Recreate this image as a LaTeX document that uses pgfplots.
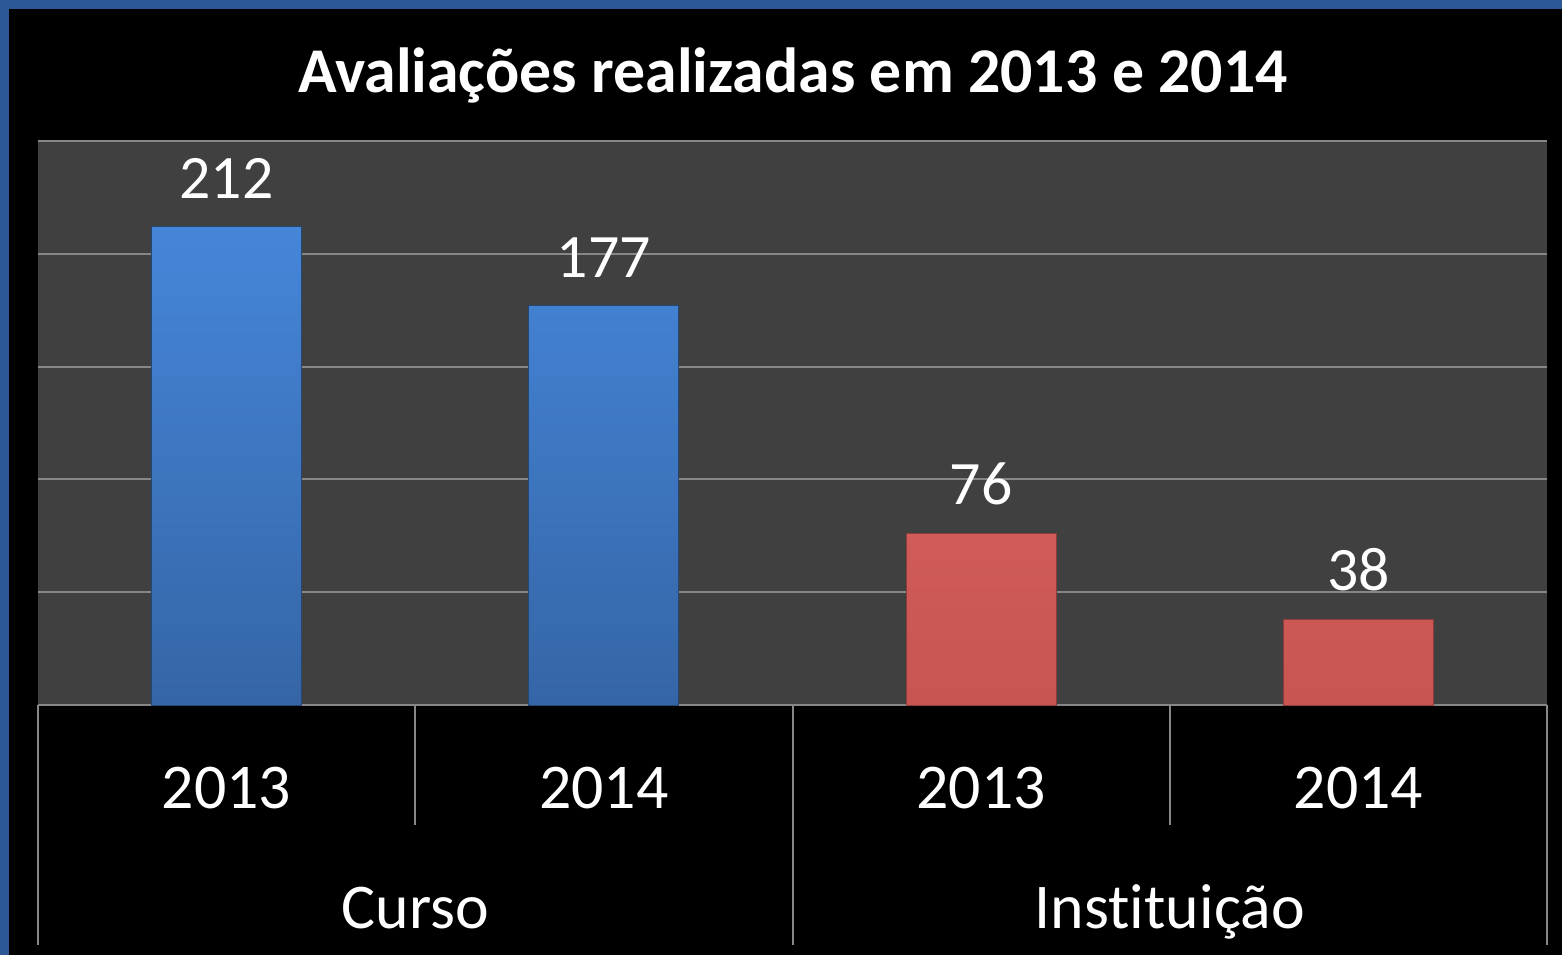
\documentclass[border=0pt]{standalone}
\usepackage{fontspec}
\setmainfont[Ligatures=NoCommon]{Carlito}
\usepackage{pgfplots}
\pgfplotsset{compat=1.18}

\definecolor{frameblue}{HTML}{2D5896}
\definecolor{plotbg}{HTML}{404040}
\definecolor{gridgray}{HTML}{878787}
\definecolor{bluetop}{HTML}{4586D9}
\definecolor{bluebot}{HTML}{3565A6}
\definecolor{redtop}{HTML}{D05B58}
\definecolor{redbot}{HTML}{C85552}

\begin{document}
\begin{tikzpicture}[x=0.5bp,y=0.5bp]
\path[use as bounding box] (0,0) rectangle (1562,955);
\fill[frameblue] (0,0) rectangle (1562,955);
\fill[black] (9,0) rectangle (1562,946);

\begin{axis}[
  at={(19bp,125bp)}, anchor=south west,
  scale only axis, width=754.5bp, height=282bp,
  xmin=0.5, xmax=4.5, ymin=0, ymax=250,
  axis x line*=bottom, axis y line*=left,
  x axis line style={gridgray, line width=1bp},
  y axis line style={draw=none},
  ymajorgrids, grid style={gridgray, line width=1bp},
  ytick={0,50,...,250}, yticklabels={},
  xtick={1,2,3,4}, xticklabels={2013,2014,2013,2014},
  major tick length=0pt,
  xticklabel style={white, font=\fontsize{32}{38}\selectfont, anchor=base, yshift=-51.5bp},
  axis background/.style={fill=plotbg},
  clip=false,
  ybar, bar width=75bp,
  nodes near coords,
  every node near coord/.append style={white, font=\fontsize{31}{37}\selectfont, anchor=south, inner sep=0pt, yshift=14bp},
  /pgf/number format/assume math mode=true,
]
\addplot[bar shift=0pt, draw=bluebot!70!black, top color=bluetop, bottom color=bluebot] coordinates {(1,212) (2,177)};
\addplot[bar shift=0pt, draw=redbot!70!black, top color=redtop, bottom color=redbot] coordinates {(3,76) (4,38)};
\node[white, anchor=base, font=\fontsize{32}{38}\selectfont, yshift=-111.5bp] at (axis cs:1.5,0) {Curso};
\node[white, anchor=base, font=\fontsize{32}{38}\selectfont, yshift=-111.5bp] at (axis cs:3.5,0) {Instituição};
\end{axis}

% category separators
\draw[gridgray, line width=1bp] (38,250) -- (38,10);
\draw[gridgray, line width=1bp] (415,250) -- (415,130);
\draw[gridgray, line width=1bp] (793,250) -- (793,10);
\draw[gridgray, line width=1bp] (1170,250) -- (1170,130);
\draw[gridgray, line width=1bp] (1547,250) -- (1547,10);

\node[white, anchor=base, font=\bfseries\fontsize{32}{38}\selectfont] at (793,862) {Avaliações realizadas em 2013 e 2014};
\end{tikzpicture}
\end{document}
